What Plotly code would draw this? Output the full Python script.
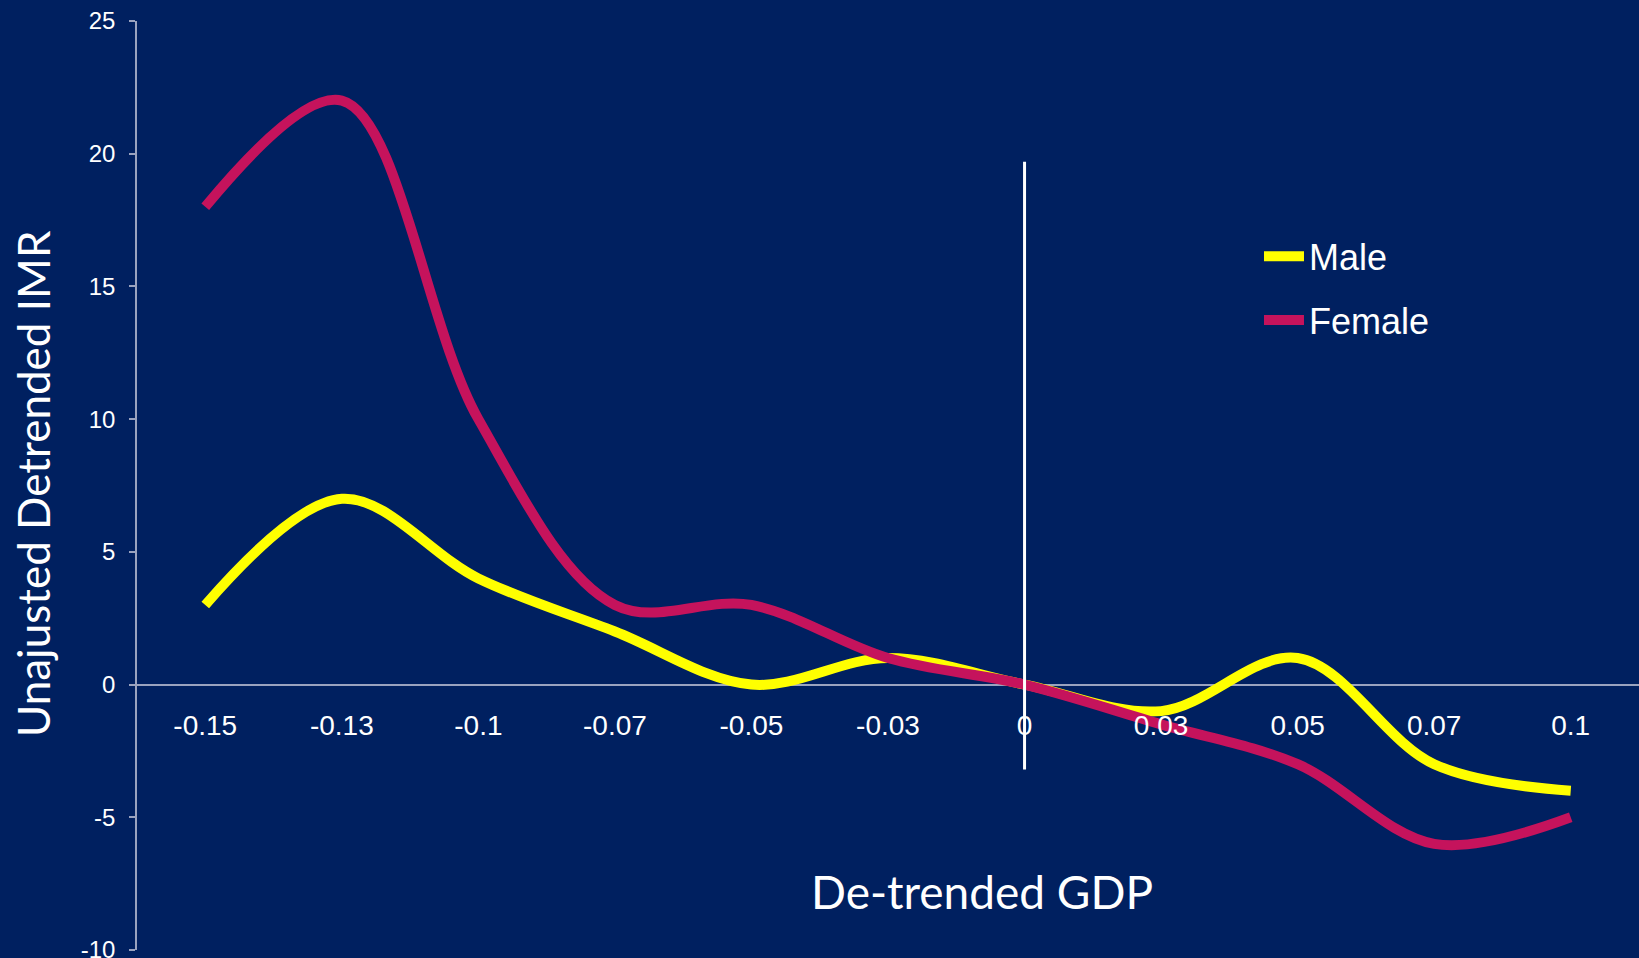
import plotly.graph_objects as go

categories = ["-0.15", "-0.13", "-0.1", "-0.07", "-0.05", "-0.03", "0", "0.03", "0.05", "0.07", "0.1"]
male = [3, 7, 4, 2, 0, 1, 0, -1, 1, -3, -4]
female = [18, 22, 10, 3, 3, 1, 0, -1.5, -3, -6, -5]
y_ticks = [-10, -5, 0, 5, 10, 15, 20, 25]
y_ticktext = ["-10", "-5", "0", "5", "10", "15", "20", "25"]

BG = "#002060"
AX = "#9aa3bf"
TICKFONT = "Liberation Sans, Arial, sans-serif"
TITLEFONT = "Lato, Open Sans, sans-serif"

fig = go.Figure()
fig.add_trace(go.Scatter(x=categories, y=male, name="Male", mode="lines",
                         line=dict(color="#ffff00", width=10, shape="spline", smoothing=1.0),
                         legendgroup="m"))
fig.add_trace(go.Scatter(x=categories, y=female, name="Female", mode="lines",
                         line=dict(color="#c5135c", width=10, shape="spline", smoothing=1.0),
                         legendgroup="f"))

# vertical white marker line at the "0" category
zero_idx = categories.index("0")
fig.add_shape(type="line", xref="x", yref="y", x0=zero_idx, x1=zero_idx, y0=-3.2, y1=19.7,
              line=dict(color="white", width=3))

fig.update_layout(
    width=1639, height=958,
    margin=dict(l=137, r=0, t=21, b=8, autoexpand=False),
    paper_bgcolor=BG, plot_bgcolor=BG,
    showlegend=True,
    legend=dict(x=0.747, y=0.779, xanchor="left", yanchor="top",
                bgcolor="rgba(0,0,0,0)", font=dict(family=TICKFONT, size=36, color="white"),
                tracegroupgap=14, itemwidth=40),
    xaxis=dict(type="category", categoryorder="array", categoryarray=categories,
               range=[-0.5, 10.5], anchor="free", position=10/35, automargin=False,
               showline=False, showgrid=False, zeroline=False, ticks="",
               ticklabelstandoff=21,
               tickfont=dict(family=TICKFONT, size=28, color="white")),
    yaxis=dict(range=[-10, 25], tickvals=y_ticks, ticktext=y_ticktext, showgrid=False,
               automargin=False,
               showline=True, linecolor=AX, linewidth=1.5,
               zeroline=True, zerolinecolor=AX, zerolinewidth=1.5,
               ticks="outside", ticklen=6, tickcolor=AX, tickwidth=1.5,
               ticklabelstandoff=9, ticklabeloverflow="allow",
               tickfont=dict(family=TICKFONT, size=24, color="white")),
    annotations=[
        dict(text="De-trended GDP", xref="paper", yref="paper",
             x=(982 - 137) / 1502, y=(950 - 891) / 929, xanchor="center", yanchor="middle",
             showarrow=False, font=dict(family=TITLEFONT, size=46, color="white")),
        dict(text="Unajusted Detrended IMR", xref="paper", yref="paper",
             x=(33 - 137) / 1502, y=(950 - 484) / 929, xanchor="center", yanchor="middle",
             textangle=-90, showarrow=False, font=dict(family=TITLEFONT, size=44, color="white")),
    ],
)

fig.write_html("out.html")
